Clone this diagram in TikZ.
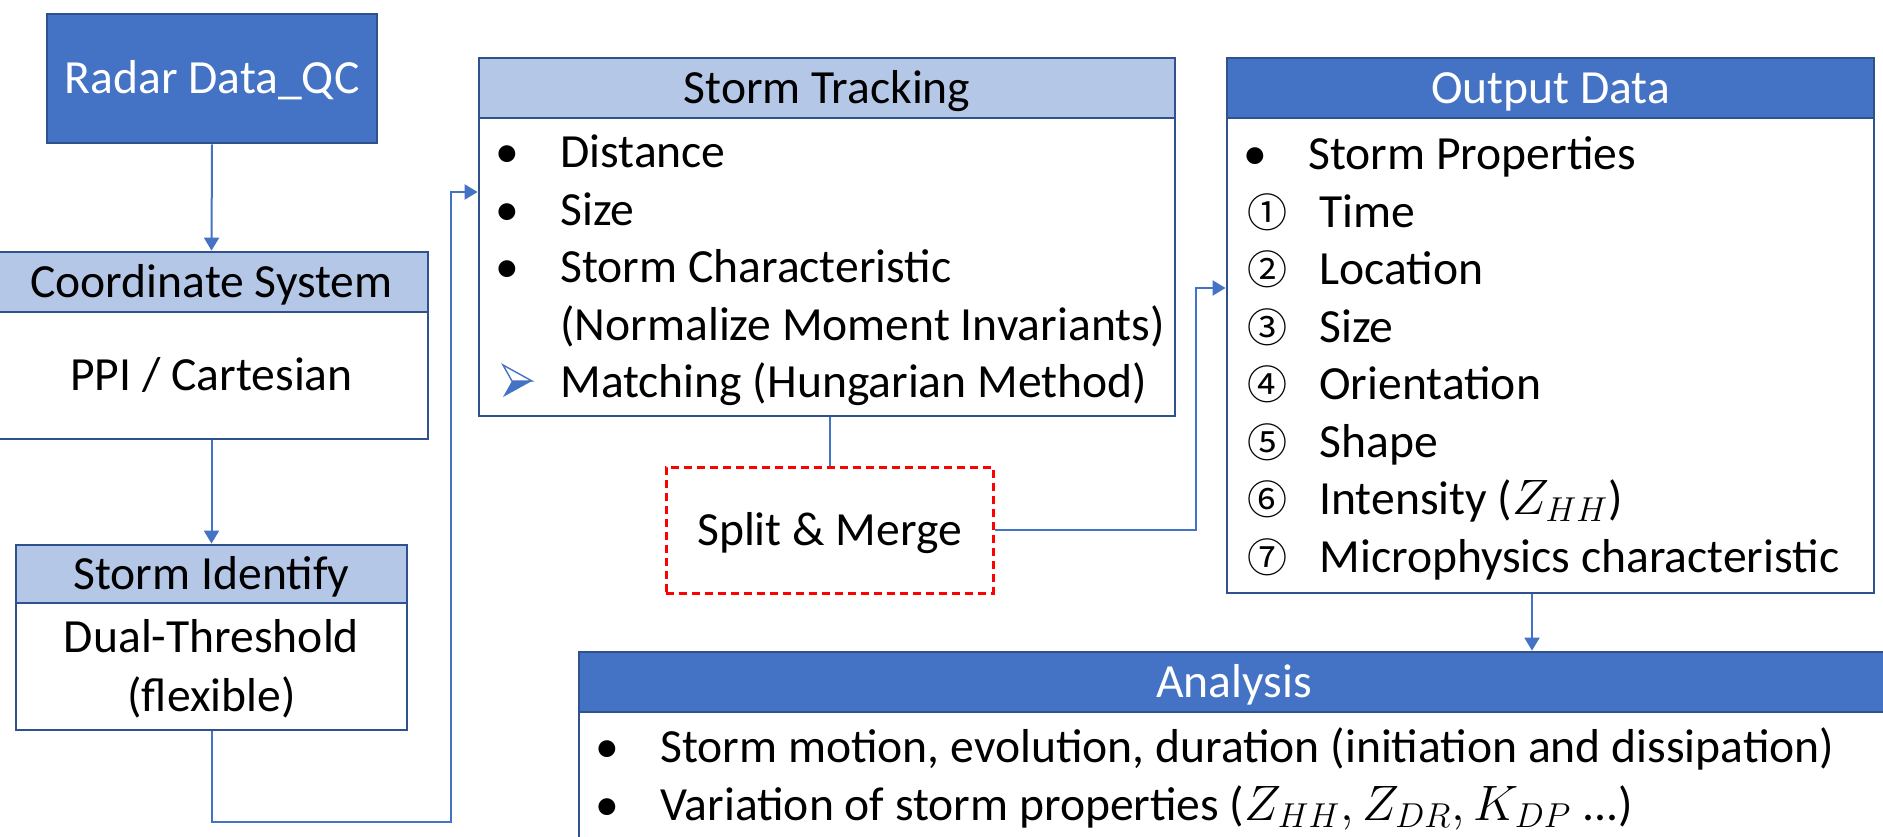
\documentclass[tikz,border=0pt]{standalone}
\usepackage{fontspec}
\setmainfont{Carlito}
\newfontfamily\cjk{Noto Sans CJK JP}
\usetikzlibrary{arrows.meta}
\definecolor{dblue}{HTML}{4472C4}
\definecolor{bord}{HTML}{2F528F}
\definecolor{lblue}{HTML}{B4C7E7}
\definecolor{lineblue}{HTML}{4472C4}
\newcommand{\bul}{\makebox[28pt][c]{•}\hspace{12.5pt}}
\newcommand{\num}[1]{\makebox[40pt][c]{\cjk\fontsize{20}{20}\selectfont #1}\hspace{6pt}}
\begin{document}
\begin{tikzpicture}[x=0.5pt,y=-0.5pt,
  font=\fontsize{23.8}{29}\selectfont,
  box/.style={draw=bord, line width=1.4pt, inner sep=0pt, text height=15pt, text depth=0pt},
  darkhdr/.style={box, fill=dblue, text=white},
  lighthdr/.style={box, fill=lblue, text=black},
  bodybox/.style={box, fill=white},
  splitbox/.style={draw=red, dash pattern=on 4pt off 2.5pt, line width=1.5pt, fill=white, inner sep=0pt, text height=15pt, text depth=0pt},
  conn/.style={draw=lineblue, line width=1pt},
  arr/.style={conn, -{Triangle[length=6.5pt,width=7.5pt]}},
  item/.style={anchor=base west, inner sep=0pt},
  line/.style={anchor=base, inner sep=0pt},
]
\useasboundingbox (0,0) rectangle (1883,836);
\clip (0,0) rectangle (1883,836);

% Radar
\node[darkhdr, minimum width=165pt, minimum height=64.5pt] (radar) at (212,78.5) {Radar Data\_QC};

% Coordinate system
\node[bodybox, minimum width=216.5pt, minimum height=63.5pt] (coordB) at (211.5,375.5) {PPI / Cartesian};
\node[lighthdr, minimum width=216.5pt, minimum height=30pt] (coordH) at (211.5,282) {Coordinate System};

% Storm identify
\node[bodybox, minimum width=195.5pt, minimum height=63.5pt] (identB) at (211.5,666.5) {};
\node[lighthdr, minimum width=195.5pt, minimum height=29pt] (identH) at (211.5,574) {Storm Identify};
\node[line] (identL1) at (211.5,652.5) {Dual-Threshold};
\node[line] (identL2) at (211.5,711) {(flexible)};

% Storm tracking
\node[bodybox, minimum width=348pt, minimum height=149pt] (trackB) at (827,267) {};
\node[lighthdr, minimum width=348pt, minimum height=30pt] (trackH) at (827,88) {Storm Tracking};
\node[item] (tr1) at (479,167.5) {\bul Distance};
\node[item] (tr2) at (479,225) {\bul Size};
\node[item] (tr3) at (479,282.5) {\bul Storm Characteristic};
\node[item] (tr4) at (479,340) {\hspace{40.5pt}(Normalize Moment Invariants)};
\node[item] (tr5) at (479,397.5) {\hspace{40.5pt}Matching (Hungarian Method)};
% arrowhead bullet
\draw[dblue, line width=0.7pt, fill=white, line join=miter] (503,365) -- (532,381) -- (512,381) -- cycle;
\fill[dblue] (503,397) -- (532,381) -- (512,381) -- cycle;

% Split & Merge
\node[splitbox, minimum width=163.5pt, minimum height=63pt] (split) at (829.5,530) {Split \& Merge};

% Output data
\node[bodybox, minimum width=323.5pt, minimum height=237.5pt] (outB) at (1550.5,355.5) {};
\node[darkhdr, minimum width=323.5pt, minimum height=30pt] (outH) at (1550.5,88) {Output Data};
\node[item] (out0) at (1227,169.5) {\bul Storm Properties};
\node[item] (out1) at (1227,227) {\num{①}Time};
\node[item] (out2) at (1227,284.5) {\num{②}Location};
\node[item] (out3) at (1227,342) {\num{③}Size};
\node[item] (out4) at (1227,399.5) {\num{④}Orientation};
\node[item] (out5) at (1227,457) {\num{⑤}Shape};
\node[item] (out6) at (1227,514.5) {\num{⑥}Intensity ($Z_{HH}$)};
\node[item] (out7) at (1227,572) {\num{⑦}Microphysics characteristic};

% Analysis
\node[bodybox, minimum width=655pt, minimum height=94pt] (anaB) at (1234,806) {};
\node[darkhdr, minimum width=655pt, minimum height=30pt] (anaH) at (1234,682) {Analysis};
\node[item] (an1) at (579,762) {\bul Storm motion, evolution, duration (initiation and dissipation)};
\node[item] (an2) at (579,820) {\bul Variation of storm properties ($Z_{HH}, Z_{DR}, K_{DP}$ ...)};

% connectors
\draw[arr] (radar.south) -- (coordH.north);
\draw[arr] (coordB.south) -- (identH.north);

\coordinate (fb1) at (207,822);
\coordinate (fb2) at (451,822);
\coordinate (fb3) at (451,192);
\draw[arr] (identB.south) -- (identB.south |- fb1) -- (fb2) -- (fb3) -- (trackB.west |- fb3);

\draw[conn] (split.north |- trackB.south) -- (split.north);

\coordinate (so1) at (1196,530);
\coordinate (so2) at (1196,288);
\draw[arr] (split.east) -- (so1) -- (so2) -- (outB.west |- so2);

\coordinate (oa) at (1532,600);
\draw[arr] (outB.south -| oa) -- (anaH.north -| oa);
\end{tikzpicture}
\end{document}
